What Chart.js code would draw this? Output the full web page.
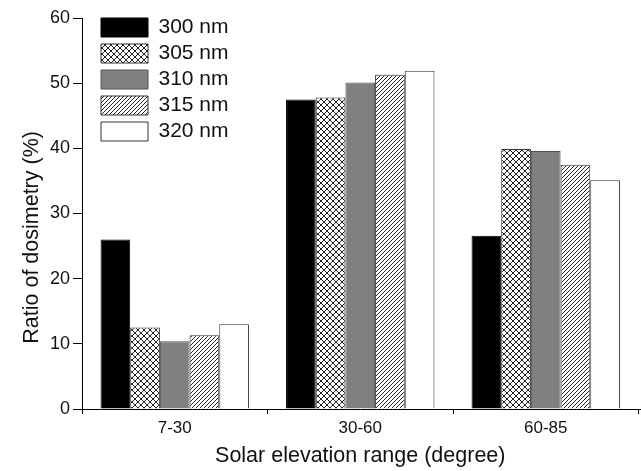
<!DOCTYPE html>
<html>
<head>
<meta charset="utf-8">
<script src="https://cdn.jsdelivr.net/npm/chart.js@4.4.0/dist/chart.umd.min.js"></script>
<style>
  html, body { margin: 0; padding: 0; background: #fff; }
  #wrap { width: 641px; height: 471px; }
</style>
</head>
<body>
<div id="wrap"><canvas id="myChart"></canvas></div>
<script>
// data
const categories = ['7-30', '30-60', '60-85'];
const seriesNames = ['300 nm', '305 nm', '310 nm', '315 nm', '320 nm'];
const nm300 = [26.0, 47.5, 26.6];
const nm305 = [12.5, 47.8, 39.9];
const nm310 = [10.4, 50.1, 39.6];
const nm315 = [11.3, 51.3, 37.5];
const nm320 = [13.0, 51.9, 35.1];
const yTicks = [0, 10, 20, 30, 40, 50, 60];

// hatch patterns
function makePattern(size, cross) {
  const c = document.createElement('canvas');
  c.width = size; c.height = size;
  const g = c.getContext('2d');
  g.fillStyle = '#fff';
  g.fillRect(0, 0, size, size);
  g.strokeStyle = '#222';
  g.lineWidth = 1;
  g.beginPath();
  // "/" lines
  g.moveTo(-1, size + 1); g.lineTo(size + 1, -1);
  g.moveTo(-1, 1); g.lineTo(1, -1);
  g.moveTo(size - 1, size + 1); g.lineTo(size + 1, size - 1);
  if (cross) {
    g.moveTo(-1, -1); g.lineTo(size + 1, size + 1);
    g.moveTo(size - 1, -1); g.lineTo(size + 1, 1);
    g.moveTo(-1, size - 1); g.lineTo(1, size + 1);
  }
  g.stroke();
  return g.createPattern(c, 'repeat');
}

const crossFill = makePattern(6, true);
const hatchFill = makePattern(4, false);

const fills = ['#000000', crossFill, '#808080', hatchFill, '#ffffff'];
const borders = ['#000000', '#333333', '#555555', '#333333', '#333333'];
const values = [nm300, nm305, nm310, nm315, nm320];

const datasets = seriesNames.map(function(name, i) {
  return {
    label: name,
    data: values[i],
    backgroundColor: fills[i],
    borderColor: borders[i],
    borderWidth: 1,
    barPercentage: 1.0,
    categoryPercentage: 0.8
  };
});

// put the legend in the upper-left of the plot and run the x axis line to the edge
const tweaks = {
  id: 'tweaks',
  afterLayout(chart) {
    chart.legend.left = chart.chartArea.left + 14;
    chart.legend.top = chart.chartArea.top - 6;
  },
  afterDraw(chart) {
    const ctx = chart.ctx;
    const a = chart.chartArea;
    ctx.save();
    ctx.strokeStyle = '#000';
    ctx.lineWidth = 1;
    ctx.beginPath();
    ctx.moveTo(a.right, a.bottom + 0.5);
    ctx.lineTo(chart.width, a.bottom + 0.5);
    ctx.stroke();
    ctx.restore();
  }
};

Chart.defaults.font.family = '"Liberation Sans", Arial, sans-serif';
Chart.defaults.color = '#111';

new Chart(document.getElementById('myChart'), {
  type: 'bar',
  data: { labels: categories, datasets: datasets },
  plugins: [tweaks],
  options: {
    responsive: true,
    maintainAspectRatio: false,
    animation: false,
    layout: { padding: { top: 18, right: 2.5, left: 0, bottom: 0 } },
    plugins: {
      legend: {
        position: 'chartArea',
        align: 'start',
        labels: {
          boxWidth: 47,
          boxHeight: 19,
          padding: 5,
          color: '#111',
          font: { size: 21 }
        }
      },
      tooltip: { enabled: false }
    },
    scales: {
      x: {
        offset: true,
        border: { color: '#000', width: 1 },
        grid: { offset: true, drawOnChartArea: false, drawTicks: true, tickLength: 5, color: '#000' },
        ticks: { font: { size: 17 }, padding: 4, color: '#111' },
        title: { display: true, text: 'Solar elevation range (degree)', font: { size: 21.5 }, color: '#111', padding: { top: 3, bottom: 2 } },
        afterFit(scale) { scale.height = 62; }
      },
      y: {
        min: 0,
        max: 60,
        border: { color: '#000', width: 1 },
        grid: { drawOnChartArea: false, drawTicks: true, tickLength: 9, color: '#000' },
        afterBuildTicks(scale) { scale.ticks = yTicks.map(v => ({ value: v })); },
        ticks: { font: { size: 18 }, padding: 3, color: '#111' },
        // trailing spaces push the rotated title down, as in the figure
        title: { display: true, text: 'Ratio of dosimetry (%)        ', font: { size: 21.5 }, color: '#111', padding: { top: 19, bottom: 4 } },
        afterFit(scale) { scale.width = 82; }
      }
    }
  }
});
</script>
</body>
</html>
